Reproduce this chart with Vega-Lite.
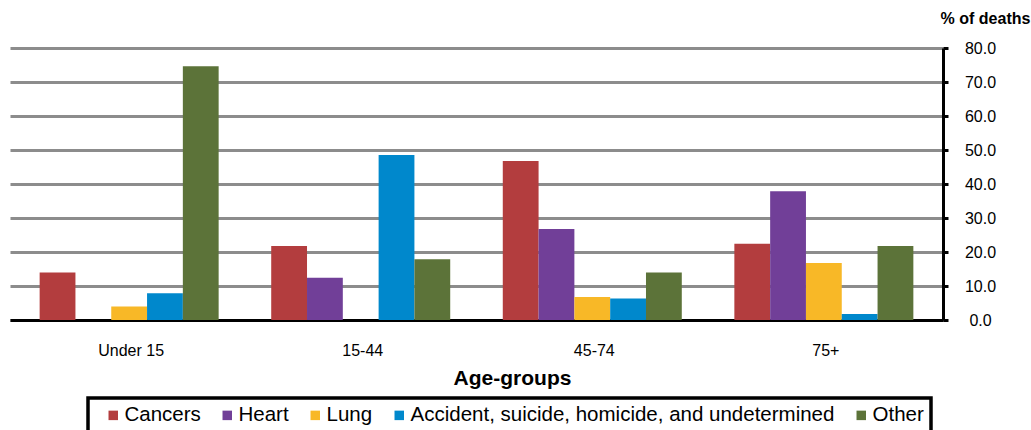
{
  "$schema": "https://vega.github.io/schema/vega-lite/v6.json",
  "autosize": {"type": "none"},
  "width": 933,
  "height": 272,
  "padding": {"left": 10, "top": 48, "right": 88, "bottom": 110},
  "background": "white",
  "config": {
    "font": "Liberation Sans",
    "view": {"stroke": null}
  },
  "data": {
    "values": [
      {"age": "Under 15", "cause": "Cancers", "pct": 14.0},
      {"age": "Under 15", "cause": "Heart", "pct": 0},
      {"age": "Under 15", "cause": "Lung", "pct": 4.0},
      {"age": "Under 15", "cause": "Accident, suicide, homicide, and undetermined", "pct": 7.9},
      {"age": "Under 15", "cause": "Other", "pct": 74.6},
      {"age": "15-44", "cause": "Cancers", "pct": 21.8},
      {"age": "15-44", "cause": "Heart", "pct": 12.4},
      {"age": "15-44", "cause": "Lung", "pct": 0},
      {"age": "15-44", "cause": "Accident, suicide, homicide, and undetermined", "pct": 48.5},
      {"age": "15-44", "cause": "Other", "pct": 17.9},
      {"age": "45-74", "cause": "Cancers", "pct": 46.8},
      {"age": "45-74", "cause": "Heart", "pct": 26.8},
      {"age": "45-74", "cause": "Lung", "pct": 6.8},
      {"age": "45-74", "cause": "Accident, suicide, homicide, and undetermined", "pct": 6.3},
      {"age": "45-74", "cause": "Other", "pct": 14.0},
      {"age": "75+", "cause": "Cancers", "pct": 22.4},
      {"age": "75+", "cause": "Heart", "pct": 37.9},
      {"age": "75+", "cause": "Lung", "pct": 16.8},
      {"age": "75+", "cause": "Accident, suicide, homicide, and undetermined", "pct": 1.8},
      {"age": "75+", "cause": "Other", "pct": 21.8}
    ]
  },
  "mark": {"type": "bar"},
  "encoding": {
    "x": {
      "field": "age",
      "type": "nominal",
      "sort": ["Under 15", "15-44", "45-74", "75+"],
      "scale": {"paddingInner": 0.227, "paddingOuter": 0.128},
      "axis": {
        "title": "Age-groups",
        "titleFontSize": 21,
        "titleFontWeight": "bold",
        "titleColor": "black",
        "titlePadding": 9,
        "titleX": 502,
        "titleAlign": "center",
        "labelAngle": 0,
        "labelFontSize": 16,
        "labelColor": "black",
        "labelPadding": 22,
        "labelOffset": 2,
        "ticks": false,
        "domainColor": "black",
        "domainWidth": 3
      }
    },
    "xOffset": {
      "field": "cause",
      "type": "nominal",
      "sort": ["Cancers", "Heart", "Lung", "Accident, suicide, homicide, and undetermined", "Other"],
      "scale": {"paddingInner": 0, "paddingOuter": 0}
    },
    "y": {
      "field": "pct",
      "type": "quantitative",
      "scale": {"domain": [0, 80]},
      "axis": {
        "orient": "right",
        "values": [0, 10, 20, 30, 40, 50, 60, 70, 80],
        "format": ".1f",
        "title": "% of deaths",
        "titleAngle": 0,
        "titleX": 42,
        "titleY": -30,
        "titleAlign": "center",
        "titleBaseline": "middle",
        "titleFontSize": 16,
        "titleFontWeight": "bold",
        "titleColor": "black",
        "labelFontSize": 16,
        "labelColor": "black",
        "labelAlign": "center",
        "labelPadding": 32,
        "domainColor": "black",
        "domainWidth": 3,
        "tickColor": "black",
        "tickWidth": 3,
        "tickSize": 5,
        "grid": true,
        "gridColor": "#8c8c8c",
        "gridWidth": 3
      }
    },
    "color": {
      "field": "cause",
      "type": "nominal",
      "sort": ["Cancers", "Heart", "Lung", "Accident, suicide, homicide, and undetermined", "Other"],
      "scale": {
        "domain": ["Cancers", "Heart", "Lung", "Accident, suicide, homicide, and undetermined", "Other"],
        "range": ["#B33D3E", "#713F98", "#F8B827", "#0088CC", "#5C7339"]
      },
      "legend": {
        "title": null,
        "orient": "none",
        "direction": "horizontal",
        "columns": 5,
        "legendX": 78,
        "legendY": 350,
        "labelFontSize": 20.5,
        "labelColor": "black",
        "labelOffset": 1,
        "labelLimit": 600,
        "symbolType": "square",
        "symbolSize": 90,
        "symbolStrokeWidth": 0,
        "symbolOffset": 8,
        "columnPadding": 8,
        "padding": 7,
        "strokeColor": "black",
        "fillColor": "white",
        "encode": {"legend": {"update": {"strokeWidth": {"value": 3.5}}}}
      }
    }
  }
}
